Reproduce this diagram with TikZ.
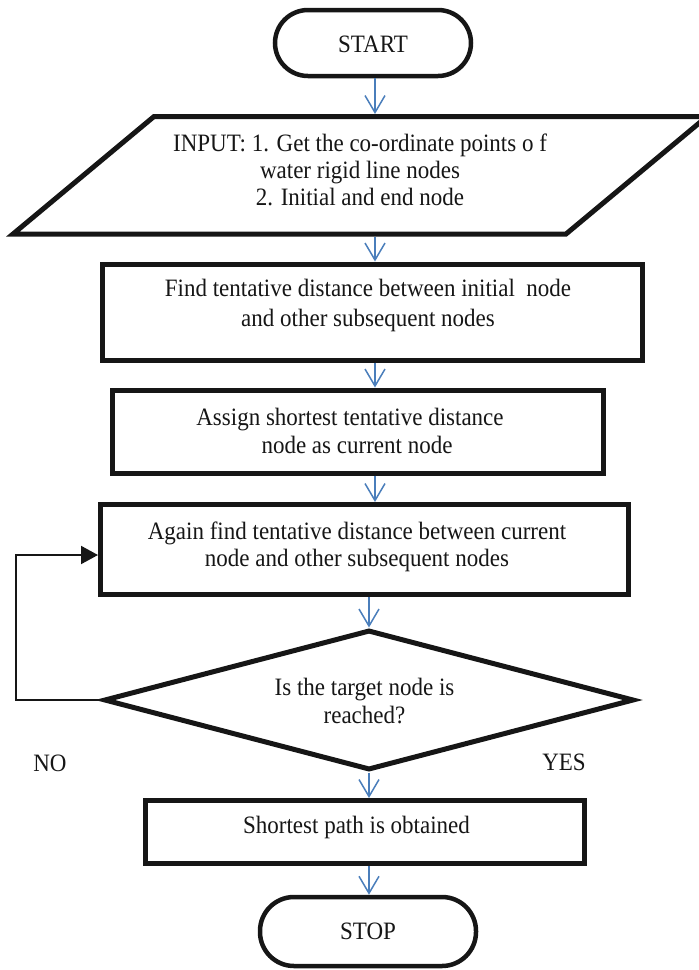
\documentclass[tikz,border=0pt]{standalone}
\usepackage{fontspec}
\setmainfont{Liberation Serif}[FakeStretch=0.92]
\usetikzlibrary{arrows.meta,shapes.geometric}
\definecolor{flowblue}{RGB}{74,126,187}
\definecolor{ink}{RGB}{22,22,22}
\begin{document}
\begin{tikzpicture}[x=1pt,y=-1pt,
  shapebox/.style={draw=ink,line width=5pt,inner sep=0pt,rectangle},
  term/.style={draw=ink,line width=4.5pt,inner sep=0pt,rectangle},
  flow/.style={draw=flowblue,line width=1.5pt,-{Straight Barb[length=17pt,width=20pt]}},
  fb/.style={draw=ink,line width=2pt,line join=miter,-{Triangle[length=17pt,width=18pt]}},
  txt/.style={align=center,inner sep=0pt,text=ink,font=\fontsize{25}{28}\selectfont}]
\useasboundingbox (0,0) rectangle (699,970);
% terminals
\node[term,rounded corners=33pt,minimum width=196pt,minimum height=66pt] (start) at (373,43) {};
\node[txt] (starttxt) at (373,44) {START};
\node[term,rounded corners=34pt,minimum width=216pt,minimum height=69pt] (stop) at (368,931.5) {};
\node[txt] (stoptxt) at (368,931) {STOP};
% input parallelogram
\draw[ink,line width=5pt,line join=miter] (154,116.5) -- (707,116.5) -- (566,234) -- (13,234) -- cycle;
\coordinate (inTop) at (375,114);
\coordinate (inBot) at (375,236.5);
\node[txt,font=\fontsize{25}{27}\selectfont] (intxt) at (360,170) {INPUT: 1. Get the co-ordinate points o f\\water rigid line nodes\\2. Initial and end node};
% process boxes
\node[shapebox,minimum width=540pt,minimum height=96pt] (b1) at (372,312) {};
\node[txt,font=\fontsize{25}{30}\selectfont] (b1txt) at (368,305) {Find tentative distance between initial\ \ node\\and other subsequent nodes};
\node[shapebox,minimum width=491pt,minimum height=83pt] (b2) at (357.5,431.5) {};
\node[txt] (b2txt) at (350,431) {Assign shortest tentative distance\\\hspace*{14pt}node as current node};
\node[shapebox,minimum width=528pt,minimum height=90pt] (b3) at (364.5,549.5) {};
\node[txt,font=\fontsize{25}{27}\selectfont] (b3txt) at (357,546.5) {Again find tentative distance between current\\node and other subsequent nodes};
% decision
\node[draw=ink,line width=5pt,diamond,inner sep=0pt,minimum width=530pt,minimum height=140pt] (dia) at (369,700) {};
\node[txt] (diatxt) at (364.5,701) {Is the target node is\\reached?};
\node[txt] (no) at (50,763) {NO};
\node[txt] (yes) at (564,762) {YES};
% result
\node[shapebox,minimum width=439pt,minimum height=63pt] (b4) at (365,832) {};
\node[txt] (b4txt) at (356.5,827) {Shortest path is obtained};
% connectors
\coordinate (ax) at (375,0);
\coordinate (bx) at (369,0);
\coordinate (fbx) at (15.6,0);
\draw[flow] (start.south -| ax) -- (inTop);
\draw[flow] (inBot) -- (b1.north -| ax);
\draw[flow] (b1.south -| ax) -- (b2.north -| ax);
\draw[flow] (b2.south -| ax) -- (b3.north -| ax);
\draw[flow] (b3.south -| bx) -- (dia.north);
\draw[flow] (dia.south) -- (b4.north -| bx);
\draw[flow] (b4.south -| bx) -- (stop.north -| bx);
\draw[fb] (dia.west) -- (dia.west -| fbx) |- ([yshift=-5.5pt]b3.west);
\end{tikzpicture}
\end{document}
